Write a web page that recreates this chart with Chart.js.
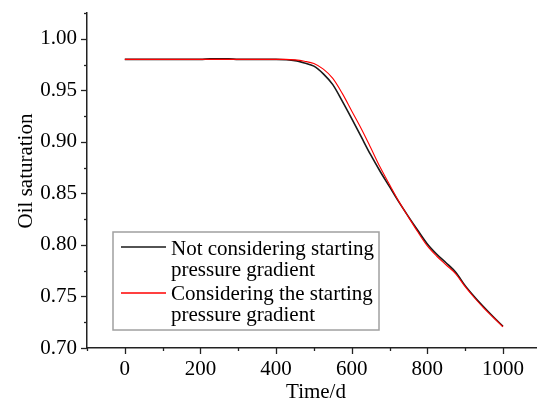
<!DOCTYPE html>
<html>
<head>
<meta charset="utf-8">
<script src="https://cdn.jsdelivr.net/npm/chart.js@4.4.1/dist/chart.umd.min.js"></script>
<style>
  body { margin: 0; background: #fff; }
  #wrap { width: 537px; height: 401px; }
</style>
</head>
<body>
<div id="wrap"><canvas id="chart" width="537" height="401"></canvas></div>
<script>
/* --------------- Data --------------------- */
const timeDays = [0, 25, 50, 75, 100, 125, 150, 175, 200, 225, 250, 275, 300, 325, 350, 375, 400,
  425, 450, 475, 500, 525, 550, 575, 600, 625, 650, 675, 700, 725, 750, 775, 800,
  825, 850, 875, 900, 925, 950, 975, 1000];
const notConsidering = [0.980, 0.980, 0.980, 0.980, 0.980, 0.980, 0.980, 0.980, 0.980, 0.9805, 0.9805, 0.9805, 0.980, 0.980, 0.980, 0.980, 0.980,
  0.9797, 0.9788, 0.9765, 0.9735, 0.9660, 0.9555, 0.9395, 0.9225, 0.9050, 0.8875, 0.8715, 0.8565, 0.8415, 0.8275, 0.8140, 0.8010,
  0.7910, 0.7825, 0.7735, 0.7605, 0.7495, 0.7395, 0.7300, 0.7210];
const considering = [0.980, 0.980, 0.980, 0.980, 0.980, 0.980, 0.980, 0.980, 0.980, 0.980, 0.980, 0.980, 0.980, 0.980, 0.980, 0.980, 0.980,
  0.9800, 0.9795, 0.9782, 0.9760, 0.9705, 0.9615, 0.9470, 0.9300, 0.9130, 0.8945, 0.8755, 0.8585, 0.8420, 0.8270, 0.8125, 0.7990,
  0.7890, 0.7805, 0.7720, 0.7595, 0.7485, 0.7385, 0.7295, 0.7205];
const seriesLabels = [
  ["Not considering starting", "pressure gradient"],
  ["Considering the starting", "pressure gradient"]
];
const xTicks = [-100, 0, 100, 200, 300, 400, 500, 600, 700, 800, 900, 1000];
const yTicks = [0.70, 0.725, 0.75, 0.775, 0.80, 0.825, 0.85, 0.875, 0.90, 0.925, 0.95, 0.975, 1.00, 1.025];

const FONT = "'Times New Roman', 'Liberation Serif', serif";
const AXIS = "#222";
const colors = ["#1a1a1a", "#ff0000"];

const toPoints = (ys) => timeDays.map((t, i) => ({ x: t, y: ys[i] }));
const isMajorX = (v) => v >= 0 && v % 200 === 0;
const isMajorY = (v) => Math.abs(Math.round(v * 20) - v * 20) < 1e-6;

/* --------------- Ticks, titles, legend --------------------- */
const decor = {
  id: "decor",
  afterDraw(chart) {
    const ctx = chart.ctx;
    const xs = chart.scales.x, ys = chart.scales.y;
    const area = chart.chartArea;
    ctx.save();
    ctx.strokeStyle = AXIS;
    ctx.lineWidth = 1.3;
    // x ticks (outward, below)
    xTicks.forEach(v => {
      const px = Math.round(xs.getPixelForValue(v)) + 0.5;
      const len = isMajorX(v) ? 6 : 3;
      ctx.beginPath();
      ctx.moveTo(px, area.bottom);
      ctx.lineTo(px, area.bottom + len);
      ctx.stroke();
    });
    // y ticks (outward, left)
    yTicks.forEach(v => {
      const py = Math.round(ys.getPixelForValue(v)) + 0.5;
      const len = isMajorY(v) ? 6 : 3;
      ctx.beginPath();
      ctx.moveTo(area.left, py);
      ctx.lineTo(area.left - len, py);
      ctx.stroke();
    });
    // axis titles
    ctx.fillStyle = "#000";
    ctx.font = "21px " + FONT;
    ctx.textAlign = "center";
    ctx.textBaseline = "alphabetic";
    ctx.fillText("Time/d", 316, 398);
    ctx.save();
    ctx.translate(32, 171);
    ctx.rotate(-Math.PI / 2);
    ctx.fillText("Oil saturation", 0, 0);
    ctx.restore();
    // legend box
    ctx.fillStyle = "#fff";
    ctx.fillRect(113, 232, 266, 98);
    ctx.strokeStyle = "#a0a0a0";
    ctx.lineWidth = 1.5;
    ctx.strokeRect(113, 232, 266, 98);
    ctx.textAlign = "left";
    const rows = [{ lineY: 247, base: 255 }, { lineY: 293, base: 300 }];
    seriesLabels.forEach((lines, i) => {
      ctx.strokeStyle = colors[i];
      ctx.lineWidth = 1.5;
      ctx.beginPath();
      ctx.moveTo(121, rows[i].lineY);
      ctx.lineTo(166, rows[i].lineY);
      ctx.stroke();
      ctx.fillStyle = "#000";
      lines.forEach((t, j) => ctx.fillText(t, 171, rows[i].base + j * 21));
    });
    ctx.restore();
  }
};

new Chart(document.getElementById("chart"), {
  type: "line",
  plugins: [decor],
  data: {
    datasets: [
      {
        label: seriesLabels[0].join(" "),
        data: toPoints(notConsidering),
        borderColor: colors[0],
        borderWidth: 1.6,
        pointRadius: 0,
        cubicInterpolationMode: "monotone",
        order: 1,
      },
      {
        label: seriesLabels[1].join(" "),
        data: toPoints(considering),
        borderColor: colors[1],
        borderWidth: 1.1,
        pointRadius: 0,
        cubicInterpolationMode: "monotone",
        order: 0,
      },
    ],
  },
  options: {
    responsive: false,
    animation: false,
    layout: { padding: { top: 13, right: 0, left: 0, bottom: 0 } },
    plugins: { legend: { display: false }, tooltip: { enabled: false } },
    scales: {
      x: {
        type: "linear",
        min: -100,
        max: 1090,
        afterBuildTicks: (s) => { s.ticks = xTicks.map(v => ({ value: v })); },
        afterFit: (s) => { s.height = 53; s.paddingLeft = 0; s.paddingRight = 0; },
        grid: { display: false, drawTicks: false },
        border: { display: true, color: AXIS, width: 1.5 },
        ticks: {
          autoSkip: false,
          maxRotation: 0,
          padding: 9,
          color: "#000",
          font: { family: FONT, size: 21 },
          callback: (v) => isMajorX(v) ? String(v) : "",
        },
      },
      y: {
        type: "linear",
        min: 0.70,
        max: 1.025,
        afterBuildTicks: (s) => { s.ticks = yTicks.map(v => ({ value: v })); },
        afterFit: (s) => { s.width = 87; s.paddingTop = 0; s.paddingBottom = 0; },
        grid: { display: false, drawTicks: false },
        border: { display: true, color: AXIS, width: 1.5 },
        ticks: {
          autoSkip: false,
          padding: 10,
          color: "#000",
          font: { family: FONT, size: 21 },
          callback: (v) => isMajorY(v) ? v.toFixed(2) : "",
        },
      },
    },
  },
});
</script>
</body>
</html>
